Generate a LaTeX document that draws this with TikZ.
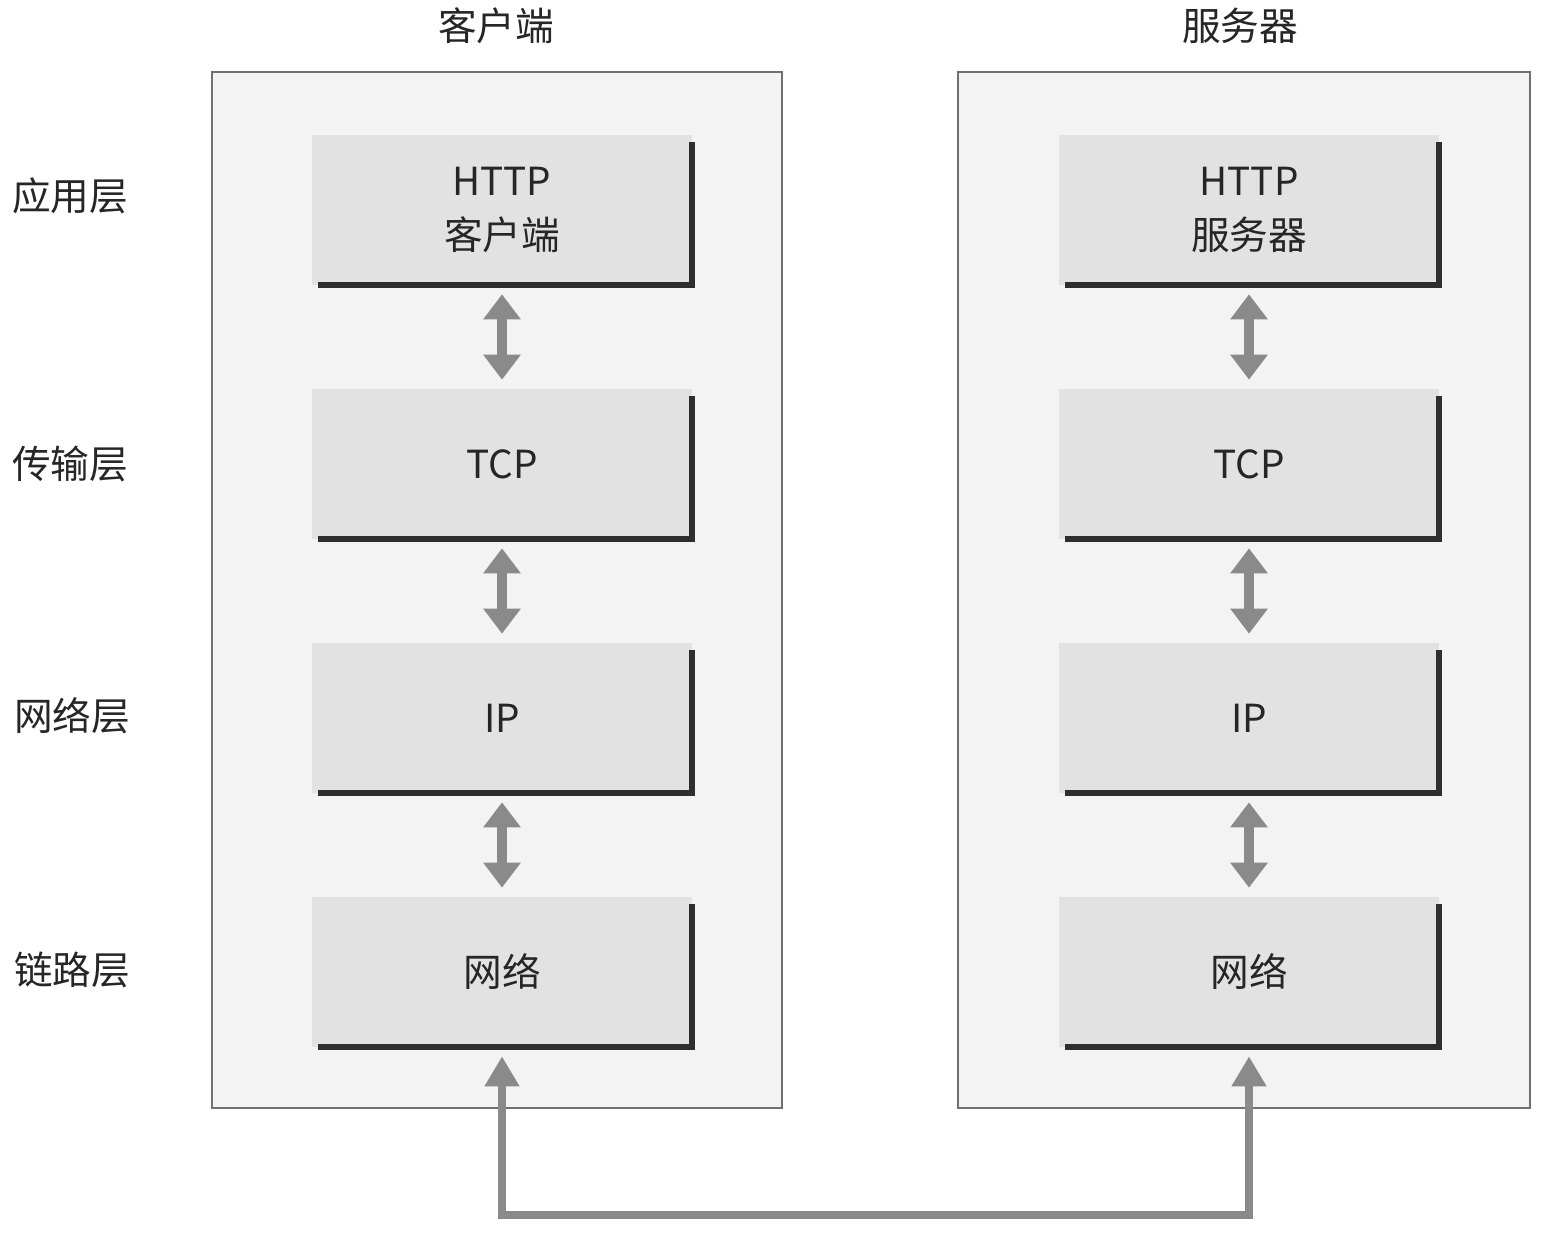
\documentclass[tikz,border=0pt]{standalone}
\usepackage{fontspec}
\setmainfont{Noto Sans CJK SC}
\usetikzlibrary{arrows.meta}
\definecolor{panelfill}{HTML}{F3F3F3}
\definecolor{panelline}{HTML}{707070}
\definecolor{boxfill}{HTML}{E2E2E2}
\definecolor{shadowc}{HTML}{2E2E2E}
\definecolor{arrowc}{HTML}{8A8A8A}
\begin{document}
\begin{tikzpicture}[x=0.02cm,y=-0.02cm,
  panel/.style={draw=panelline,line width=1.2pt,fill=panelfill},
  layerbox/.style={fill=boxfill,minimum width=7.6cm,minimum height=3cm,inner sep=0pt,align=center,font=\fontsize{22}{30}\selectfont,text=black!85},
  shadowline/.style={draw=shadowc,line width=3.4pt},
  dbl/.style={draw=arrowc,line width=5.5pt,{Triangle[width=0.72cm,length=0.5cm]}-{Triangle[width=0.72cm,length=0.5cm]},shorten <=0.18cm,shorten >=0.18cm},
  bus/.style={draw=arrowc,line width=4.2pt,{Triangle[width=0.66cm,length=0.6cm]}-{Triangle[width=0.66cm,length=0.6cm]},shorten <=0.18cm,shorten >=0.18cm},
  lbl/.style={font=\fontsize{22}{26}\selectfont,text=black!85}]
\useasboundingbox (0,0) rectangle (1551,1236);
\fill[white] (0,0) rectangle (1551,1236);
% panels
\draw[panel] (212,72) rectangle (782,1108);
\draw[panel] (958,72) rectangle (1530,1108);
% titles
\node[lbl] (tc) at (496,26) {客户端};
\node[lbl] (ts) at (1240,26) {服务器};
% layer labels
\node[lbl] (la) at (70,196) {应用层};
\node[lbl] (lt) at (70,464) {传输层};
\node[lbl] (ln) at (72,716) {网络层};
\node[lbl] (ll) at (72,970) {链路层};
% left boxes
\node[layerbox] (l1) at (502,210) {\raisebox{-8pt}{\parbox{7cm}{\centering HTTP\\[1pt]客户端}}};
\node[layerbox] (l2) at (502,464) {TCP};
\node[layerbox] (l3) at (502,718) {IP};
\node[layerbox] (l4) at (502,972) {网络};
% right boxes
\node[layerbox] (r1) at (1249,210) {\raisebox{-8pt}{\parbox{7cm}{\centering HTTP\\[1pt]服务器}}};
\node[layerbox] (r2) at (1249,464) {TCP};
\node[layerbox] (r3) at (1249,718) {IP};
\node[layerbox] (r4) at (1249,972) {网络};
% shadow lines
\foreach \b in {l1,l2,l3,l4,r1,r2,r3,r4}{
  \draw[shadowline] ([yshift=-0.14cm]\b.north east) -- (\b.south east) -- ([xshift=0.12cm]\b.south west);
}
% double arrows
\draw[dbl] (l1.south) -- (l2.north);
\draw[dbl] (l2.south) -- (l3.north);
\draw[dbl] (l3.south) -- (l4.north);
\draw[dbl] (r1.south) -- (r2.north);
\draw[dbl] (r2.south) -- (r3.north);
\draw[dbl] (r3.south) -- (r4.north);
% bottom link
\coordinate (c1) at (l4.south |- 0,1215);
\coordinate (c2) at (r4.south |- 0,1215);
\draw[bus] (l4.south) -- (c1) -- (c2) -- (r4.south);
\end{tikzpicture}
\end{document}
